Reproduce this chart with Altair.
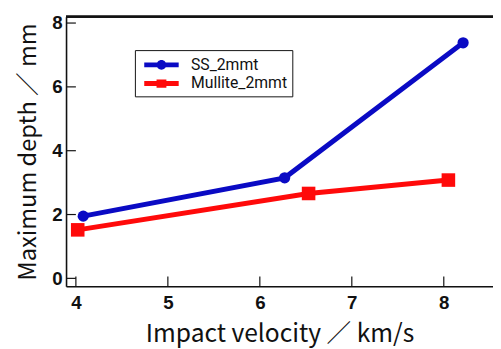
import altair as alt
import pandas as pd

series_names = ["SS_2mmt", "Mullite_2mmt"]
ss_velocity = [4.08, 6.27, 8.21]
ss_depth = [1.95, 3.15, 7.38]
mu_velocity = [4.02, 6.53, 8.05]
mu_depth = [1.52, 2.66, 3.08]
x_ticks = [4, 5, 6, 7, 8]
y_ticks = [0, 2, 4, 6, 8]

df = pd.DataFrame({
    "series": [series_names[0]] * 3 + [series_names[1]] * 3,
    "v": ss_velocity + mu_velocity,
    "d": ss_depth + mu_depth,
})
xt = pd.DataFrame({"v": x_ticks})
yt = pd.DataFrame({"d": y_ticks})

FONT = "Noto Sans CJK JP"
NUMFONT = "Liberation Sans"
xdom = [3.893, 8.535]
ydom = [-0.246, 8.2]
xs = alt.Scale(domain=xdom, nice=False, zero=False)
ys = alt.Scale(domain=ydom, nice=False, zero=False)
cs = alt.Scale(domain=series_names, range=["#0a0ac4", "#ff0a0a"])

W, H = 434, 274

xaxis = alt.Axis(values=x_ticks, title="Impact velocity ／ km/s", grid=False, ticks=False,
                 labelFont=NUMFONT, labelFontSize=19, labelFontWeight="bold", labelColor="#111",
                 labelPadding=8, titleFont=FONT, titleFontSize=25, titleFontWeight="normal",
                 titleColor="#111", titlePadding=9, domainColor="#111", domainWidth=1.6)
yaxis = alt.Axis(values=y_ticks, title="Maximum depth ／ mm", grid=False, ticks=False,
                 labelFont=NUMFONT, labelFontSize=19, labelFontWeight="bold", labelColor="#111",
                 labelPadding=4, titleFont=FONT, titleFontSize=24, titleFontWeight="normal",
                 titleColor="#111", titlePadding=11, domainColor="#111", domainWidth=1.6)

X = alt.X("v:Q", scale=xs, axis=xaxis)
Y = alt.Y("d:Q", scale=ys, axis=yaxis)

line = alt.Chart(df).mark_line(strokeWidth=5).encode(
    x=X, y=Y,
    color=alt.Color("series:N", scale=cs, legend=None),
    detail="series:N",
)

# legend glyphs: a thick line with the series marker in the middle
path_c = ("M-1.75,-0.25H1.75V0.25H-1.75Z "
          "M-0.5,0A0.5,0.5 0 1,1 0.5,0A0.5,0.5 0 1,1 -0.5,0Z")
path_s = "M-1.75,-0.25H1.75V0.25H-1.75Z M-0.5,-0.42H0.5V0.42H-0.5Z"

leg = dict(title=None, orient="none", legendX=70, legendY=34, symbolSize=400,
           symbolOffset=12, labelFont="Roboto", labelFontSize=16, labelColor="#111",
           strokeColor="#111", padding=5, rowPadding=1, symbolStrokeWidth=0,
           labelOffset=20)

legend_pts = alt.Chart(df).mark_point(filled=True, opacity=1, size=1).encode(
    x=X, y=Y,
    color=alt.Color("series:N", scale=cs, legend=alt.Legend(**leg)),
    shape=alt.Shape("series:N", scale=alt.Scale(domain=series_names, range=[path_c, path_s]),
                    legend=alt.Legend(**leg)),
)

pts_c = alt.Chart(df).transform_filter(alt.datum.series == series_names[0]).mark_point(
    filled=True, opacity=1, shape="circle", size=130).encode(
    x=X, y=Y,
    color=alt.Color("series:N", scale=cs, legend=None),
)
pts_s = alt.Chart(df).transform_filter(alt.datum.series == series_names[1]).mark_point(
    filled=True, opacity=1, shape="square", size=190).encode(
    x=X, y=Y,
    color=alt.Color("series:N", scale=cs, legend=None),
)

xtick = alt.Chart(xt).mark_rule(color="#111", strokeWidth=1.2).encode(
    x=X, y=alt.value(H), y2=alt.value(H - 10),
)
ytick = alt.Chart(yt).mark_rule(color="#111", strokeWidth=1.2).encode(
    y=Y, x=alt.value(0), x2=alt.value(10),
)
topline = alt.Chart(xt).mark_rule(color="#111", strokeWidth=1.6).encode(
    x=alt.value(0), x2=alt.value(W), y=alt.value(0),
)

chart = alt.layer(line, legend_pts, pts_c, pts_s, xtick, ytick, topline).resolve_scale(
    shape="independent", color="independent"
).properties(
    width=W, height=H,
    autosize=alt.AutoSizeParams(type="none"),
    padding={"left": 59, "top": 6, "right": 0, "bottom": 60},
).configure_view(stroke=None).configure(background="white")

chart.save("out.html", embed_options={"renderer": "svg", "actions": False})
